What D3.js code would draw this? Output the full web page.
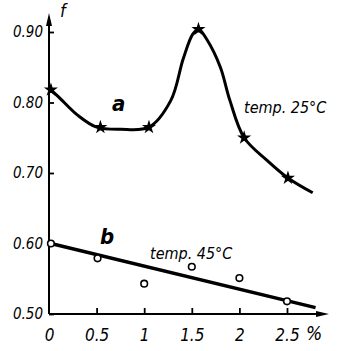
<!DOCTYPE html>
<html>
<head>
<meta charset="utf-8">
<script src="https://cdn.jsdelivr.net/npm/d3@7"></script>
<style>
  body { margin: 0; background: #fff; }
  text { font-family: "DejaVu Sans Condensed", "DejaVu Sans", sans-serif; font-style: italic; fill: #000; }
</style>
</head>
<body>
<div id="chart"></div>
<script>
var curveA = [[0.02, 0.818], [0.1, 0.808], [0.3, 0.782], [0.5, 0.765], [0.75, 0.762], [1.05, 0.765],
              [1.28, 0.803], [1.41, 0.862], [1.51, 0.897], [1.57, 0.904], [1.66, 0.889],
              [1.8, 0.85], [1.9, 0.803], [2.05, 0.75], [2.29, 0.718], [2.51, 0.693], [2.77, 0.672]];
var pointsA = [[0.02, 0.818], [0.54, 0.765], [1.05, 0.765], [1.57, 0.904], [2.05, 0.75], [2.51, 0.693]];
// curve b (temp. 45 C): straight fit and open circles
var lineB = [[0.02, 0.60], [2.8, 0.509]];
var pointsB = [[0.02, 0.60], [0.51, 0.579], [1.0, 0.543], [1.5, 0.567], [2.0, 0.551], [2.5, 0.518]];
var xTicks = [0, 0.5, 1, 1.5, 2, 2.5];
var xTickLabels = ["0", "0.5", "1", "1.5", "2", "2.5"];
var yTicks = [0.5, 0.6, 0.7, 0.8, 0.9];
var yTickLabels = ["0.50", "0.60", "0.70", "0.80", "0.90"];

var w = 354, h = 351;
var svg = d3.select("#chart").append("svg").attr("width", w).attr("height", h);

var x = d3.scaleLinear().domain([0, 2.5]).range([49, 287]);
var y = d3.scaleLinear().domain([0.5, 0.9]).range([314, 32]);

// axes
var yAxis = d3.axisLeft(y).tickValues(yTicks).tickSize(-5).tickPadding(6)
    .tickFormat(function (d, i) { return yTickLabels[i]; });
var gy = svg.append("g").attr("transform", "translate(49,0)").call(yAxis)
    .attr("font-family", null).attr("font-size", null);
gy.select(".domain").remove();
gy.selectAll("line").attr("stroke", "#000").attr("stroke-width", 1.8);
gy.selectAll("text").style("font-size", "15px").style("font-style", "italic");

var xAxis = d3.axisBottom(x).tickValues(xTicks).tickSize(-6).tickPadding(15)
    .tickFormat(function (d, i) { return xTickLabels[i]; });
var gx = svg.append("g").attr("transform", "translate(0,314)").call(xAxis)
    .attr("font-family", null).attr("font-size", null);
gx.select(".domain").remove();
gx.selectAll("line").attr("stroke", "#000").attr("stroke-width", 1.8);
gx.selectAll("line").filter(function (d) { return d === 0; }).remove();
gx.selectAll("text").style("font-size", "17px").style("font-style", "italic");

svg.append("line").attr("x1", 49).attr("y1", 314).attr("x2", 49).attr("y2", 22)
    .attr("stroke", "#000").attr("stroke-width", 2);
svg.append("path").attr("d", "M49,13 L46,26 L52,26 Z").attr("fill", "#000");
svg.append("line").attr("x1", 49).attr("y1", 314).attr("x2", 318).attr("y2", 314)
    .attr("stroke", "#000").attr("stroke-width", 2);
svg.append("path").attr("d", "M329,314 L316,311 L316,317 Z").attr("fill", "#000");

svg.append("text").attr("x", 60).attr("y", 17).attr("font-size", 18).text("f");
svg.append("text").attr("x", 306).attr("y", 340).attr("font-size", 19).text("%");

// curve a
var lineGen = d3.line().x(function (d) { return x(d[0]); }).y(function (d) { return y(d[1]); });
svg.append("path").datum(curveA)
    .attr("d", lineGen.curve(d3.curveCatmullRom))
    .attr("fill", "none").attr("stroke", "#000").attr("stroke-width", 3);
svg.selectAll(".pa").data(pointsA).enter().append("path").attr("class", "pa")
    .attr("transform", function (d) { return "translate(" + x(d[0]) + "," + y(d[1]) + ")"; })
    .attr("d", d3.symbol(d3.symbolStar, 28))
    .attr("fill", "#000").attr("stroke", "#000").attr("stroke-width", 1.5);

// line b
svg.append("path").datum(lineB)
    .attr("d", d3.line().x(function (d) { return x(d[0]); }).y(function (d) { return y(d[1]); }))
    .attr("fill", "none").attr("stroke", "#000").attr("stroke-width", 3.5);
svg.selectAll(".pb").data(pointsB).enter().append("circle").attr("class", "pb")
    .attr("cx", function (d) { return x(d[0]); })
    .attr("cy", function (d) { return y(d[1]); })
    .attr("r", 3.3)
    .attr("fill", "#fff").attr("stroke", "#000").attr("stroke-width", 1.6);

// labels
svg.append("text").attr("x", 112).attr("y", 111).attr("font-size", 22).attr("font-weight", "bold").text("a");
svg.append("text").attr("x", 244).attr("y", 113).attr("font-size", 16).text("temp. 25°C");
svg.append("text").attr("x", 100).attr("y", 244).attr("font-size", 22).attr("font-weight", "bold").text("b");
svg.append("text").attr("x", 150).attr("y", 259).attr("font-size", 16).text("temp. 45°C");
</script>
</body>
</html>
